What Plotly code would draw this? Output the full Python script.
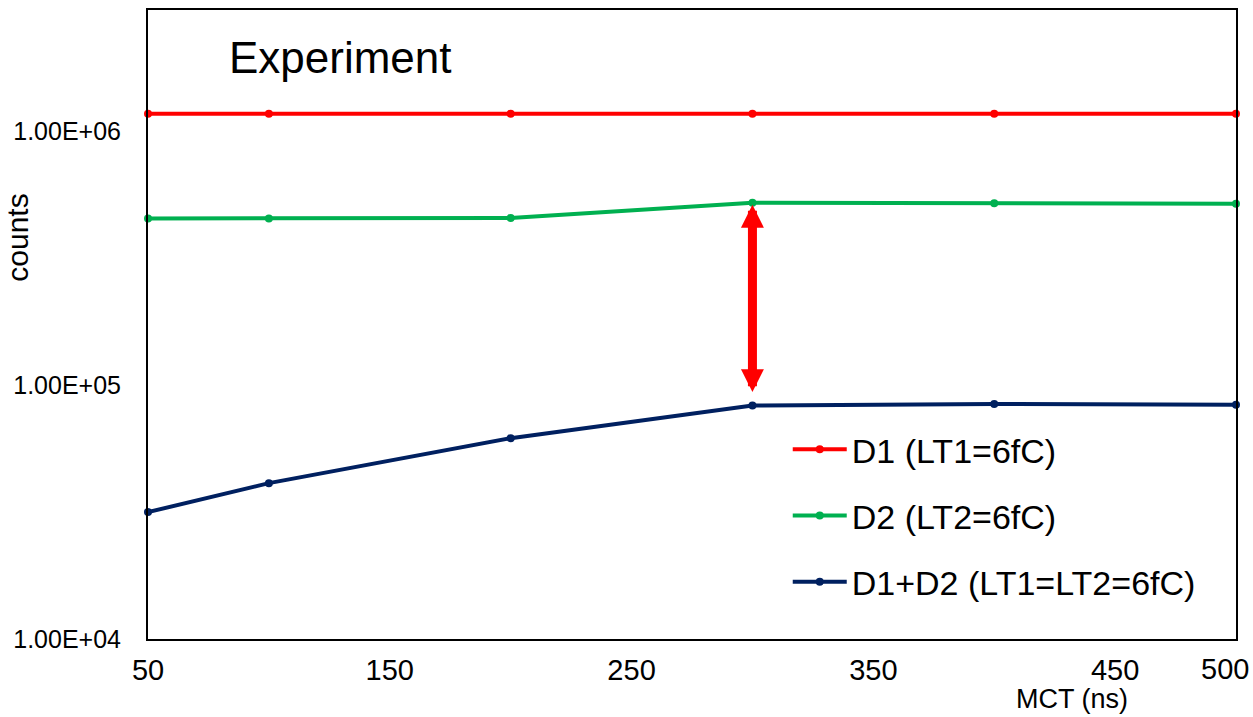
import numpy as np
import plotly.graph_objects as go

# ---- data ----
mct_ns = [50, 100, 200, 300, 400, 500]
d1_counts = [1.17e6, 1.17e6, 1.17e6, 1.17e6, 1.17e6, 1.17e6]
d2_counts = [4.53e5, 4.53e5, 4.55e5, 5.22e5, 5.20e5, 5.18e5]
d1d2_counts = [3.16e4, 4.11e4, 6.18e4, 8.30e4, 8.43e4, 8.37e4]

series_names = ["D1 (LT1=6fC)", "D2 (LT2=6fC)", "D1+D2 (LT1=LT2=6fC)"]
series_colors = ["#FF0000", "#00B050", "#002060"]

x_tickvals = [50, 150, 250, 350, 450]
x_ticktext = ["50", "150", "250", "350", "450"]
x_last_label = "500"
y_tickvals = [1e4, 1e5, 1e6]
y_ticktext = ["1.00E+04", "1.00E+05", "1.00E+06"]

FONT = "Liberation Sans, Arial, sans-serif"

fig = go.Figure()
for name, ys, col in zip(series_names, [d1_counts, d2_counts, d1d2_counts], series_colors):
    fig.add_trace(go.Scatter(
        x=mct_ns, y=ys, name=name, mode="lines+markers",
        line=dict(color=col, width=4),
        marker=dict(color=col, size=8),
        legendgroup=name, cliponaxis=False,
    ))

fig.update_layout(
    width=1253, height=717,
    margin=dict(l=148, r=17, t=8, b=78),
    paper_bgcolor="white", plot_bgcolor="white",
    font=dict(family=FONT, color="black"),
    showlegend=True,
    legend=dict(
        x=0.588, y=0.347, xanchor="left", yanchor="top",
        bgcolor="rgba(0,0,0,0)", borderwidth=0,
        font=dict(size=34, color="black", family=FONT),
        tracegroupgap=19, traceorder="grouped",
        itemwidth=54,
    ),
)

fig.update_xaxes(
    range=[50, 500], showgrid=False, zeroline=False,
    showline=True, linecolor="black", linewidth=2, mirror=True,
    tickvals=x_tickvals, ticktext=x_ticktext, ticks="",
    tickfont=dict(size=29, color="black", family=FONT),
    ticklabelstandoff=4,
)
fig.update_yaxes(
    type="log", range=[4, np.log10(3e6)], showgrid=False, zeroline=False,
    showline=True, linecolor="black", linewidth=2, mirror=True,
    tickvals=y_tickvals, ticktext=y_ticktext, ticks="",
    tickfont=dict(size=25, color="black", family=FONT),
    ticklabelstandoff=20,
)

# title text inside the plot
fig.add_annotation(
    text="Experiment", xref="paper", yref="paper",
    x=0.0725, y=0.925, xanchor="left", yanchor="middle",
    showarrow=False, font=dict(size=44, color="black", family=FONT),
)
# last x tick label
fig.add_annotation(
    text=x_last_label, xref="x", yref="paper", x=mct_ns[-1], y=0,
    xanchor="center", yanchor="top", xshift=-11, yshift=-12,
    showarrow=False, font=dict(size=29, color="black", family=FONT),
)
# x axis title
fig.add_annotation(
    text="MCT (ns)", xref="paper", yref="paper", x=0.849, y=0,
    xanchor="center", yanchor="middle", yshift=-60, borderpad=0,
    showarrow=False, font=dict(size=27, color="black", family=FONT),
)
# y axis title
fig.add_annotation(
    text="counts", xref="paper", yref="paper", x=-0.1195, y=0.638,
    xanchor="center", yanchor="middle", textangle=-90,
    showarrow=False, font=dict(size=30, color="black", family=FONT),
)
# double-headed red arrow between D2 and D1+D2 at MCT=300
fig.add_annotation(
    text="", x=mct_ns[3], y=np.log10(d2_counts[3]),
    ax=mct_ns[3], ay=np.log10(d1d2_counts[3]),
    xref="x", yref="y", axref="x", ayref="y",
    showarrow=True, arrowside="end+start",
    arrowhead=2, startarrowhead=2,
    arrowsize=0.51, startarrowsize=0.51,
    arrowwidth=9, arrowcolor="#FF0000",
    standoff=2, startstandoff=12,
)

fig.write_html("out.html")
